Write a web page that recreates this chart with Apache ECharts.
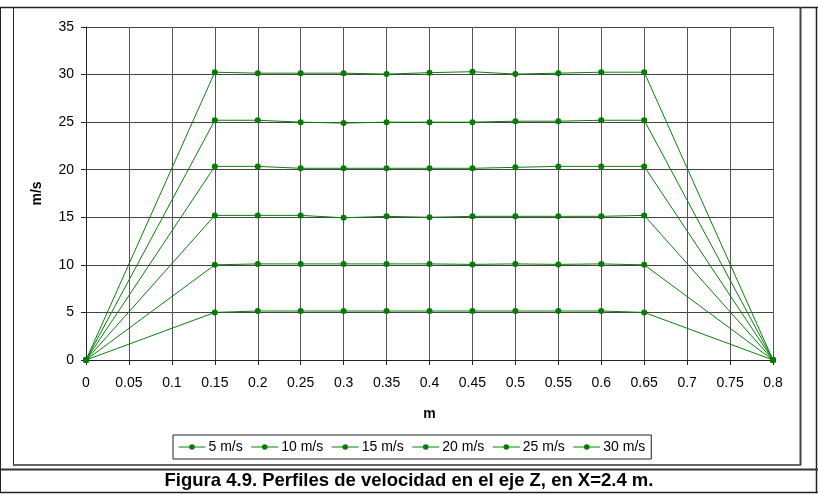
<!DOCTYPE html>
<html>
<head>
<meta charset="utf-8">
<script src="https://cdn.jsdelivr.net/npm/echarts@6/dist/echarts.min.js"></script>
<style>
  body { margin: 0; background: #fff; }
  #main { width: 818px; height: 494px; }
</style>
</head>
<body>
<div id="main"></div>
<script>
// posiciones en m (eje Z)
const xs = [0, 0.15, 0.2, 0.25, 0.3, 0.35, 0.4, 0.45, 0.5, 0.55, 0.6, 0.65, 0.8];
const names = ["5 m/s", "10 m/s", "15 m/s", "20 m/s", "25 m/s", "30 m/s"];
// velocidades (m/s)
const v5 = [0, 5.0, 5.15, 5.15, 5.15, 5.15, 5.15, 5.15, 5.15, 5.15, 5.15, 5.0, 0];
const v10 = [0, 10.0, 10.1, 10.1, 10.1, 10.1, 10.1, 10.05, 10.1, 10.05, 10.1, 10.0, 0];
const v15 = [0, 15.2, 15.2, 15.2, 14.95, 15.1, 15.0, 15.1, 15.1, 15.1, 15.1, 15.2, 0];
const v20 = [0, 20.35, 20.35, 20.15, 20.15, 20.15, 20.15, 20.15, 20.25, 20.35, 20.35, 20.35, 0];
const v25 = [0, 25.2, 25.2, 25.0, 24.9, 25.0, 25.0, 25.0, 25.1, 25.1, 25.2, 25.2, 0];
const v30 = [0, 30.25, 30.15, 30.15, 30.15, 30.05, 30.2, 30.3, 30.05, 30.15, 30.25, 30.25, 0];

const allValues = [v5, v10, v15, v20, v25, v30];
const font = 'Arial, "Liberation Sans", sans-serif';
const green = "#0a800a";

let myChart = echarts.init(document.getElementById("main"));

const series = allValues.map((vals, i) => ({
  name: names[i],
  type: "line",
  data: vals.map((v, j) => [xs[j], v]),
  symbol: "circle",
  symbolSize: 6,
  lineStyle: { color: green, width: 1 },
  itemStyle: { color: "#077a07" },
  animation: false,
}));

// marco de la tabla / figura
const frame = [
  { type: "line", shape: { x1: 0, y1: 7.5, x2: 818, y2: 7.5 }, style: { stroke: "#222", lineWidth: 1.5 } },
  { type: "line", shape: { x1: 0.5, y1: 7, x2: 0.5, y2: 493 }, style: { stroke: "#222", lineWidth: 1 } },
  { type: "line", shape: { x1: 816.5, y1: 7, x2: 816.5, y2: 493 }, style: { stroke: "#222", lineWidth: 1.5 } },
  { type: "line", shape: { x1: 13.5, y1: 7, x2: 13.5, y2: 465 }, style: { stroke: "#222", lineWidth: 1 } },
  { type: "line", shape: { x1: 800.5, y1: 7, x2: 800.5, y2: 465 }, style: { stroke: "#444", lineWidth: 2 } },
  { type: "line", shape: { x1: 13, y1: 465, x2: 801, y2: 465 }, style: { stroke: "#333", lineWidth: 1.5 } },
  { type: "line", shape: { x1: 0, y1: 469.5, x2: 818, y2: 469.5 }, style: { stroke: "#333", lineWidth: 2 } },
  { type: "line", shape: { x1: 0, y1: 492.5, x2: 818, y2: 492.5 }, style: { stroke: "#222", lineWidth: 1.5 } },
];

const option = {
  animation: false,
  backgroundColor: "#fff",
  title: {
    text: "Figura 4.9. Perfiles de velocidad en el eje Z, en X=2.4 m.",
    left: "center",
    top: 471,
    padding: 0,
    textStyle: { fontFamily: font, fontSize: 18.5, fontWeight: "bold", color: "#000" },
  },
  graphic: frame,
  legend: {
    data: names,
    left: 173,
    top: 435,
    padding: [5, 6, 5, 5],
    itemGap: 8,
    itemWidth: 27,
    itemHeight: 7,
    lineStyle: { width: 1 },
    borderColor: "#222",
    borderWidth: 1,
    textStyle: { fontFamily: font, fontSize: 14, color: "#000", padding: [0, 0, 0, -2] },
  },
  grid: { left: 86, right: 45, top: 27, bottom: 134 },
  xAxis: {
    type: "value",
    min: 0,
    max: 0.8,
    interval: 0.05,
    name: "m",
    nameLocation: "middle",
    nameGap: 47,
    nameTextStyle: { fontFamily: font, fontSize: 14, fontWeight: "bold", color: "#000" },
    axisLine: { lineStyle: { color: "#222", width: 1 } },
    axisTick: { show: true, length: 5, lineStyle: { color: "#222" } },
    axisLabel: {
      margin: 16,
      fontFamily: font,
      fontSize: 14,
      color: "#000",
      formatter: (v) => String(+v.toFixed(2)),
    },
    splitLine: { show: true, lineStyle: { color: "#555", width: 1 } },
  },
  yAxis: {
    type: "value",
    min: 0,
    max: 35,
    interval: 5,
    name: "m/s",
    nameLocation: "middle",
    nameGap: 42,
    nameTextStyle: { fontFamily: font, fontSize: 14, fontWeight: "bold", color: "#000" },
    axisLine: { show: true, lineStyle: { color: "#222", width: 1 } },
    axisTick: { show: true, length: 5, lineStyle: { color: "#222" } },
    axisLabel: { margin: 12, fontFamily: font, fontSize: 14, color: "#000" },
    splitLine: { show: true, lineStyle: { color: "#444", width: 1 } },
  },
  series: series,
};

myChart.setOption(option);
</script>
</body>
</html>
